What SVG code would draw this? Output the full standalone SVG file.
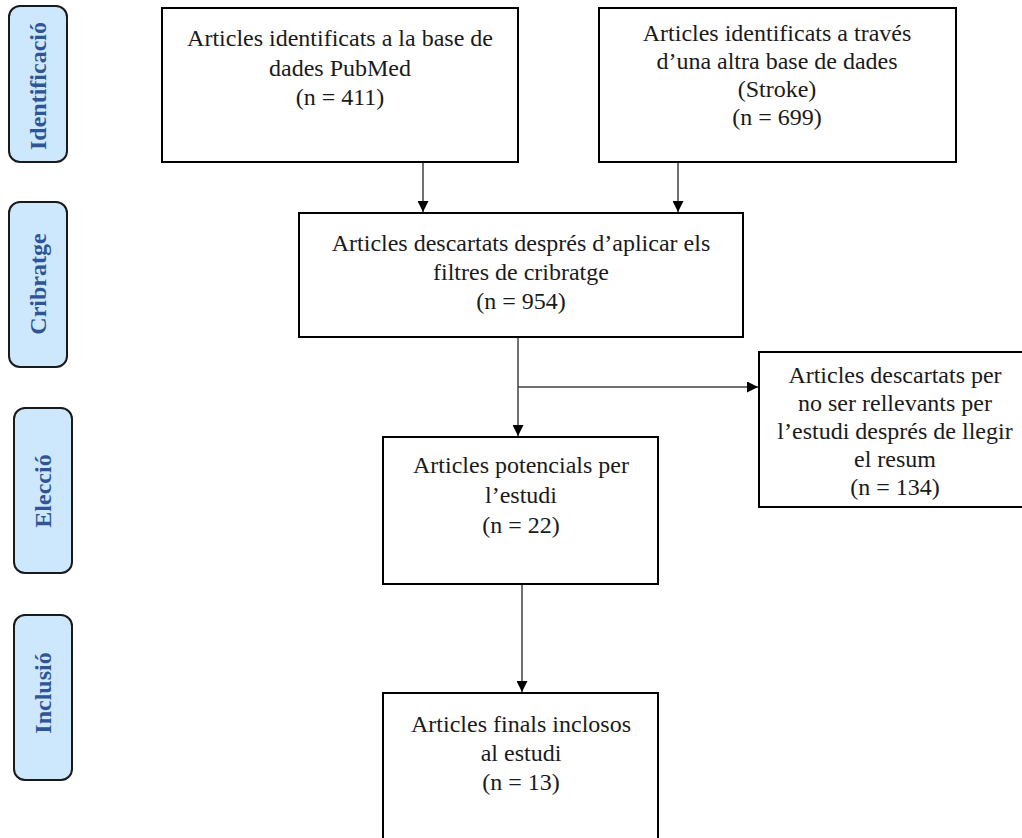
<svg xmlns="http://www.w3.org/2000/svg" width="1022" height="838" viewBox="0 0 1022 838">
<style>
.box{fill:#ffffff;stroke:#000000;stroke-width:2}
.phase{fill:#cde8fd;stroke:#1a1a1a;stroke-width:2}
.t{font-family:"Liberation Serif","Times New Roman",serif;font-size:24px;fill:#1a1a1a;text-anchor:middle}
.pt{font-family:"Liberation Serif","Times New Roman",serif;font-size:24px;font-weight:bold;fill:#2f5597;text-anchor:middle}
.ln{fill:none;stroke:#404040;stroke-width:1.5}
</style>
<defs>
<marker id="ah" viewBox="0 0 10 10" refX="10" refY="5" markerWidth="11" markerHeight="11" markerUnits="userSpaceOnUse" orient="auto">
<path d="M0,0 L10,5 L0,10 Z" fill="#000000"/>
</marker>
</defs>
<rect width="1022" height="838" fill="#ffffff"/>
<g id="phase-identificacio">
<rect class="phase" x="9" y="6" width="58" height="156" rx="11"/>
<text class="pt" transform="translate(38,86) rotate(-90)" y="8">Identificació</text>
</g>
<g id="phase-cribratge">
<rect class="phase" x="9" y="202" width="58" height="165" rx="11"/>
<text class="pt" transform="translate(38,284) rotate(-90)" y="8">Cribratge</text>
</g>
<g id="phase-eleccio">
<rect class="phase" x="14" y="408" width="58" height="165" rx="11"/>
<text class="pt" transform="translate(43,491) rotate(-90)" y="8">Elecció</text>
</g>
<g id="phase-inclusio">
<rect class="phase" x="14" y="615" width="58" height="165" rx="11"/>
<text class="pt" transform="translate(43,693) rotate(-90)" y="8">Inclusió</text>
</g>
<g id="connectors">
<line class="ln" x1="423" y1="162" x2="423" y2="212" marker-end="url(#ah)"/>
<line class="ln" x1="678" y1="162" x2="678" y2="212" stroke-width="2" marker-end="url(#ah)"/>
<line class="ln" x1="518" y1="337" x2="518" y2="436" marker-end="url(#ah)"/>
<line class="ln" x1="518" y1="387" x2="758" y2="387" marker-end="url(#ah)"/>
<line class="ln" x1="522" y1="584" x2="522" y2="692" marker-end="url(#ah)"/>
</g>
<g id="node-pubmed">
<rect class="box" x="162" y="8" width="356" height="154"/>
<text class="t" x="340" y="46">Articles identificats a la base de</text>
<text class="t" x="340" y="76">dades PubMed</text>
<text class="t" x="340" y="105">(n = 411)</text>
</g>
<g id="node-stroke">
<rect class="box" x="599" y="8" width="357" height="154"/>
<text class="t" x="777" y="41">Articles identificats a través</text>
<text class="t" x="777" y="69">d’una altra base de dades</text>
<text class="t" x="777" y="97">(Stroke)</text>
<text class="t" x="777" y="125">(n = 699)</text>
</g>
<g id="node-cribratge">
<rect class="box" x="299" y="213" width="444" height="124"/>
<text class="t" x="521" y="251">Articles descartats després d’aplicar els</text>
<text class="t" x="521" y="280">filtres de cribratge</text>
<text class="t" x="521" y="309">(n = 954)</text>
</g>
<g id="node-descartats">
<rect class="box" x="759" y="352" width="272" height="155"/>
<text class="t" x="895" y="383">Articles descartats per</text>
<text class="t" x="895" y="411">no ser rellevants per</text>
<text class="t" x="895" y="439">l’estudi després de llegir</text>
<text class="t" x="895" y="467">el resum</text>
<text class="t" x="895" y="495">(n = 134)</text>
</g>
<g id="node-potencials">
<rect class="box" x="383" y="437" width="275" height="147"/>
<text class="t" x="521" y="473">Articles potencials per</text>
<text class="t" x="521" y="503">l’estudi</text>
<text class="t" x="521" y="533">(n = 22)</text>
</g>
<g id="node-finals">
<rect class="box" x="383" y="693" width="275" height="160"/>
<text class="t" x="521" y="732">Articles finals inclosos</text>
<text class="t" x="521" y="761">al estudi</text>
<text class="t" x="521" y="790">(n = 13)</text>
</g>
</svg>
